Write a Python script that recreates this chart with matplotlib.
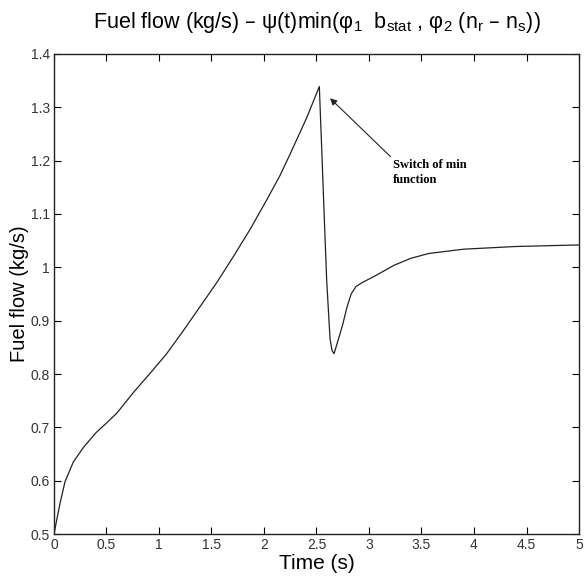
import matplotlib.pyplot as plt

plt.rcParams['font.family'] = ['Liberation Sans', 'DejaVu Sans']
plt.rcParams['mathtext.default'] = 'regular'

# fuel flow
time_s = [0.0, 0.057, 0.105, 0.184, 0.279, 0.40, 0.50, 0.60, 0.755, 0.914,
          1.073, 1.231, 1.39, 1.549, 1.708, 1.867, 2.025, 2.152, 2.248, 2.406,
          2.527, 2.549, 2.575, 2.597, 2.629, 2.648, 2.667, 2.71, 2.75, 2.79,
          2.83, 2.876, 2.94, 3.04, 3.24, 3.40, 3.57, 3.9, 4.39, 5.0]
fuel_flow = [0.5, 0.557, 0.598, 0.635, 0.662, 0.690, 0.708, 0.727, 0.765, 0.801,
             0.838, 0.881, 0.926, 0.971, 1.020, 1.071, 1.126, 1.172, 1.212, 1.280,
             1.339, 1.226, 1.089, 0.976, 0.866, 0.844, 0.838, 0.866, 0.893, 0.925,
             0.950, 0.964, 0.972, 0.982, 1.004, 1.017, 1.026, 1.034, 1.039, 1.042]

xticks = [0, 0.5, 1, 1.5, 2, 2.5, 3, 3.5, 4, 4.5, 5]
yticks = [0.5, 0.6, 0.7, 0.8, 0.9, 1.0, 1.1, 1.2, 1.3, 1.4]

fig = plt.figure(figsize=(5.88, 5.78), dpi=100)
ax = fig.add_axes([0.0918, 0.0761, 0.8929, 0.8305])

ax.plot(time_s, fuel_flow, color='#222222', linewidth=0.9)

ax.set_xlim(0, 5)
ax.set_ylim(0.5, 1.4)
ax.set_xticks(xticks)
ax.set_yticks(yticks)
ax.set_xticklabels(['%g' % v for v in xticks])
ax.set_yticklabels(['%g' % v for v in yticks])
ax.tick_params(axis='both', direction='in', length=5, width=0.8, labelsize=10,
               labelcolor='#333333', top=True, right=True, pad=3)
for s in ax.spines.values():
    s.set_linewidth(1.0)
    s.set_color('#222222')

ax.set_xlabel('Time (s)', fontsize=15, labelpad=1)
ax.set_ylabel('Fuel flow (kg/s)', fontsize=14.5, labelpad=1)
ax.set_title('Fuel flow (kg/s) – ψ(t)min(φ$_{1}$  b$_{stat}$ , φ$_{2}$ (n$_{r}$ – n$_{s}$))',
             fontsize=15.5, pad=19)

ax.annotate('Switch of min\nfunction', xy=(2.629, 1.317), xytext=(3.231, 1.178),
            fontsize=9, fontweight='bold', family='Liberation Serif',
            va='center', ha='left', linespacing=1.25,
            arrowprops=dict(arrowstyle='-|>', color='#222222', lw=0.8,
                            mutation_scale=10, shrinkA=0, shrinkB=0,
                            relpos=(0, 1.0)))

fig.savefig('out.png', dpi=100)
